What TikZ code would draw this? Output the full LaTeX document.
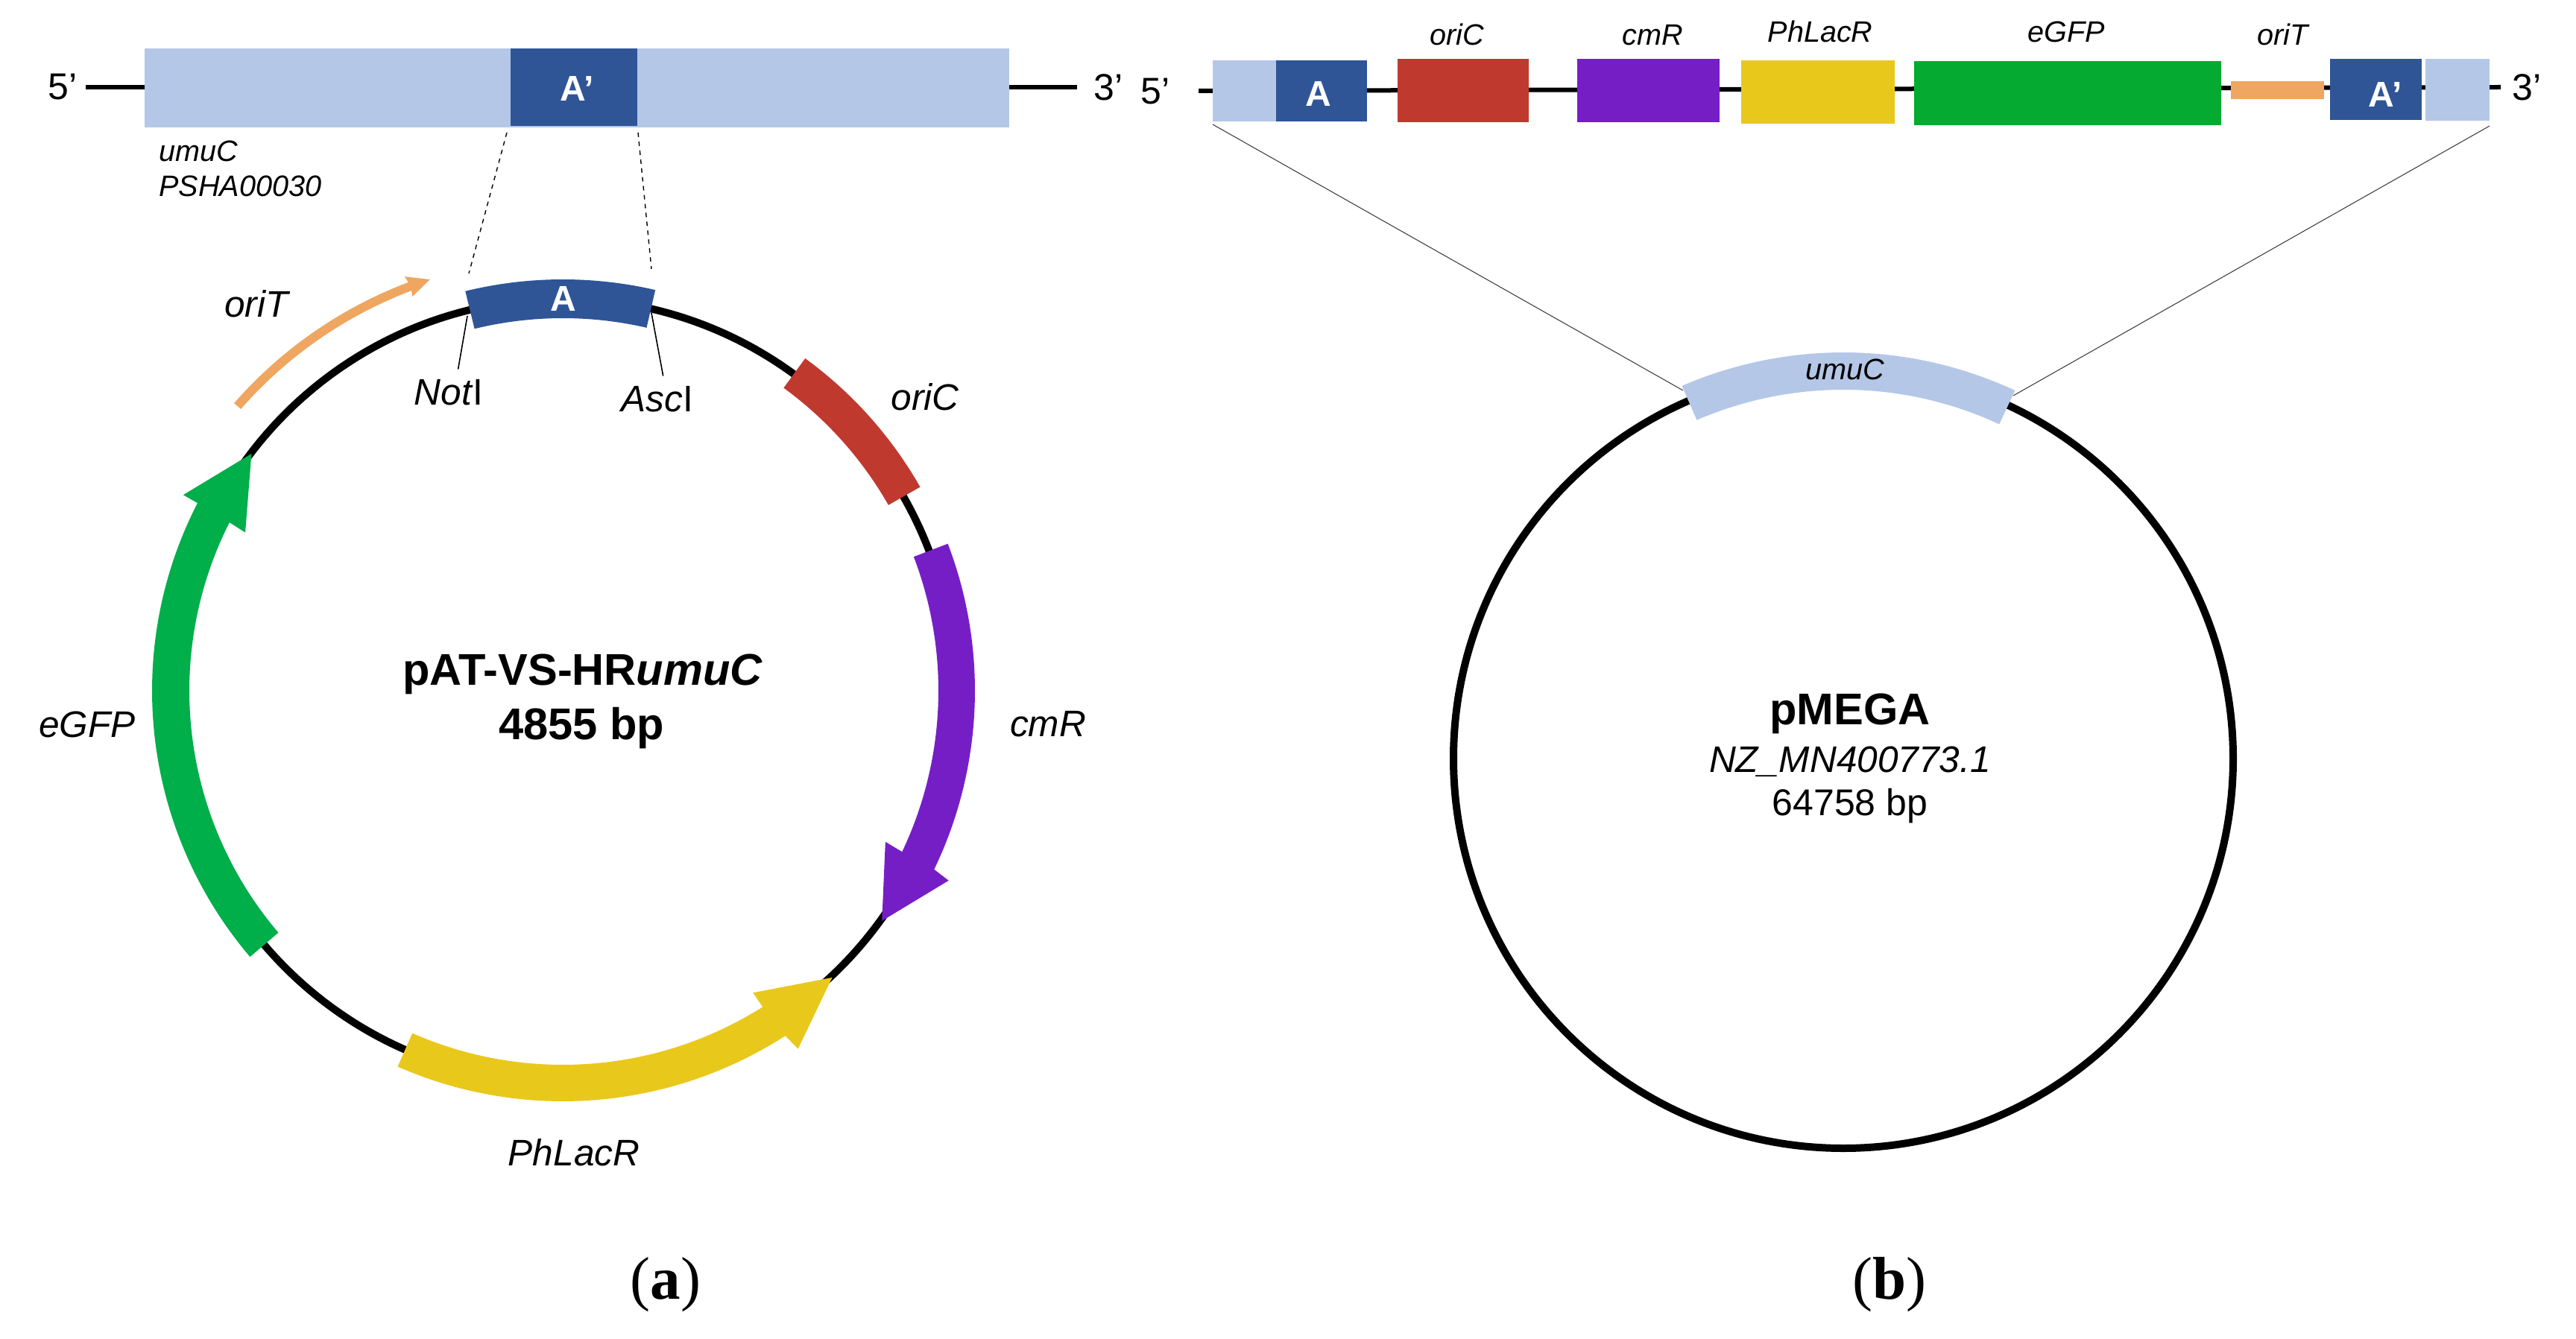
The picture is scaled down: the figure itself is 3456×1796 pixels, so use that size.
\documentclass[tikz,border=0pt]{standalone}
\usepackage{fontspec}
\setmainfont{Liberation Sans}
\newfontfamily\capfont{Liberation Serif}
\usetikzlibrary{positioning}
\definecolor{umulight}{HTML}{B4C7E7}
\definecolor{homblue}{HTML}{2F5597}
\definecolor{oricred}{HTML}{C0392F}
\definecolor{cmrpurple}{HTML}{761EC6}
\definecolor{lacyellow}{HTML}{E9C81C}
\definecolor{gfpgreen}{HTML}{00AE4A}
\definecolor{gfpstrip}{HTML}{04AB30}
\definecolor{oritorange}{HTML}{EEA660}
\begin{document}
\begin{tikzpicture}[x=0.5pt, y=0.5pt,
		ring/.style = {draw, circle, line width=5pt, inner sep=0pt, outer sep=0pt},
		box/.style = {rectangle, inner sep=0pt, outer sep=0pt},
		homtext/.style = {inner sep=0pt, text=white, font=\fontsize{24}{28}\selectfont\bfseries},
		lab/.style = {inner sep=0pt, font=\fontsize{24.8}{28}\selectfont\itshape},
		small/.style = {inner sep=0pt, font=\fontsize{19.8}{23.5}\selectfont\itshape},
		prime/.style = {inner sep=0pt, font=\fontsize{25}{28}\selectfont},
		title/.style = {inner sep=0pt, font=\fontsize{29.8}{34}\selectfont\bfseries},
		dna/.style = {line width=3pt},
		zoomline/.style = {line width=0.5pt, black!80},
		panel/.style = {inner sep=0pt, font=\fontsize{40.5}{44}\selectfont\capfont}]
	\path[use as bounding box] (0,0) rectangle (3456,1796);

	% top left gene
	\node[box,fill=umulight,minimum width=580pt,minimum height=53pt] (umu) at (774,1678) {};
	\node[box,fill=homblue,minimum width=85pt,minimum height=52pt] (apr) at (770,1679) {};
	\node[homtext,xshift=2.2pt,yshift=-1pt] (aprtext) at (apr) {A'};
	\node[prime] (p5) at (84,1679) {5'};
	\node[prime] (p3) at (1487,1679) {3'};
	\coordinate (p5end) at (115,1679);
	\coordinate (p3end) at (1445,1679);
	\draw[dna] (p5end) -- (umu.west |- p5end);
	\draw[dna] (umu.east |- p3end) -- (p3end);
	\node[small,align=left,anchor=west] (umuname) at (213,1570) {umuC\\PSHA00030};

	% pAT ring
	\node[ring,minimum size=526pt] (pat) at (755,869) {};
	\begin{scope}[shift={(pat.center)}]
		\fill[oritorange] (138.8:586) arc[start angle=138.8,end angle=110.7,radius=586] -- (110.9:595) -- (107.9:580) -- (110.9:566) -- (110.7:574) arc[start angle=110.7,end angle=138.8,radius=574] -- cycle;
		\fill[homblue] (103.7:552) arc[start angle=103.7,end angle=77,radius=552] -- (77:500) arc[start angle=77,end angle=103.7,radius=500] -- cycle;
		\fill[oricred] (53.9:552) arc[start angle=53.9,end angle=29.7,radius=552] -- (29.7:503) arc[start angle=29.7,end angle=53.9,radius=503] -- cycle;
		\fill[cmrpurple] (20.9:553) arc[start angle=20.9,end angle=-25.7,radius=553] -- (-26.2:577) -- (-35.8:528) -- (-25.1:478) -- (-25.4:504) arc[start angle=-25.4,end angle=20.9,radius=504] -- cycle;
		\fill[lacyellow] (-113.7:551) arc[start angle=-113.7,end angle=-57.2,radius=551] -- (-56.7:575) -- (-46.8:528) -- (-57.8:479) -- (-57.7:502) arc[start angle=-57.7,end angle=-113.7,radius=502] -- cycle;
		\fill[gfpgreen] (220.4:551) arc[start angle=220.4,end angle=152.8,radius=551] -- (152.7:573) -- (142.7:525) -- (153.5:476) -- (153.2:501) arc[start angle=153.2,end angle=220.4,radius=501] -- cycle;
	\end{scope}
	\node[homtext] (ahom) at (756,1395) {A};
	\node[lab] (oritlab) at (344,1388) {oriT};
	\node[lab] (oriclab) at (1241,1263) {oriC};
	\node[lab] (gfplab) at (117,824) {eGFP};
	\node[lab] (cmrlab) at (1406,824) {cmR};
	\node[lab] (laclab) at (770,249) {PhLacR};
	\node[lab] (noti) at (602,1269) {Not\textup{I}};
	\node[lab] (asci) at (882,1260) {Asc\textup{I}};
	\node[title] (patname) at (782,891) {pAT-VS-HR\textit{umuC}};
	\node[title] (patsize) at (780,819) {4855 bp};

	\coordinate (notitop) at (627,1372);
	\coordinate (ascitop) at (874,1376);
	\draw[line width=0.8pt,shorten >=7pt] (notitop) -- (noti.60);
	\draw[line width=0.8pt,shorten >=7pt] (ascitop) -- (asci.60);

	% dashed lines to the homology arm
	\coordinate (dasha) at (680,1618);
	\coordinate (dashb) at (629,1429);
	\coordinate (dashc) at (856,1618);
	\coordinate (dashd) at (874,1435);
	\draw[dashed,line width=0.7pt] (dasha) -- (dashb);
	\draw[dashed,line width=0.7pt] (dashc) -- (dashd);

	% top right strip
	\coordinate (s5end) at (1608,1674);
	\coordinate (s3end) at (3355,1679);
	\draw[dna] (s5end) -- (s3end);
	\node[prime] (q5) at (1550,1673) {5'};
	\node[prime] (q3) at (3390,1679) {3'};
	\node[box,fill=umulight,minimum width=42.5pt,minimum height=41pt] (sleft) at (1669.5,1674) {};
	\node[box,fill=homblue,minimum width=61pt,minimum height=41pt,right=0pt of sleft] (shom) {};
	\node[box,fill=oricred,minimum width=88pt,minimum height=42.5pt,right=20.5pt of shom] (soric) {};
	\node[box,fill=cmrpurple,minimum width=95.5pt,minimum height=42.5pt,right=32.5pt of soric] (scmr) {};
	\node[box,fill=lacyellow,minimum width=103pt,minimum height=42.5pt,right=14.5pt of scmr,yshift=-1pt] (slac) {};
	\node[box,fill=gfpstrip,minimum width=206pt,minimum height=43pt,right=13pt of slac,yshift=-0.75pt] (sgfp) {};
	\node[box,fill=oritorange,minimum width=62.5pt,minimum height=12pt,right=6.5pt of sgfp,yshift=2pt] (sorit) {};
	\node[box,fill=homblue,minimum width=61.5pt,minimum height=41pt,right=4pt of sorit,yshift=0.5pt] (sapr) {};
	\node[box,fill=umulight,minimum width=43pt,minimum height=41.5pt,right=2.5pt of sapr] (sright) {};
	\node[homtext,xshift=-2.2pt,yshift=-2.2pt] (shomtext) at (shom) {A};
	\node[homtext,xshift=6.5pt,yshift=-3.3pt] (saprtext) at (sapr) {A'};
	\node[small,above=9pt of soric,xshift=-4pt] (soriclab) {oriC};
	\node[small,above=9pt of scmr,xshift=3pt] (scmrlab) {cmR};
	\node[small,above=12pt of slac,xshift=1.5pt] (slaclab) {PhLacR};
	\node[small,above=12.5pt of sgfp,xshift=-1pt] (sgfplab) {eGFP};
	\node[small,above=24pt of sorit,xshift=3.5pt] (soritlab) {oriT};

	% pMEGA ring
	\node[ring,minimum size=523pt] (mega) at (2473,778) {};
	\begin{scope}[shift={(mega.center)}]
		\fill[umulight] (113.4:545) arc[start angle=113.4,end angle=65,radius=545] -- (65:495) arc[start angle=65,end angle=113.4,radius=495] -- cycle;
	\end{scope}
	\node[small] (megaumu) at (2475,1300) {umuC};
	\node[title] (meganame) at (2482,838) {pMEGA};
	\node[lab] (megaacc) at (2482,774) {NZ\_MN400773.1};
	\node[prime] (megasize) at (2482,714) {64758 bp};

	\coordinate (zooma) at (2258,1272);
	\coordinate (zoomb) at (2701,1265);
	\draw[zoomline] ([yshift=-2pt]sleft.south west) -- (zooma);
	\draw[zoomline] ([yshift=-3.5pt]sright.south east) -- (zoomb);

	\node[panel] (pa) at (893,72) {(\textbf{a})};
	\node[panel] (pb) at (2535,72) {(\textbf{b})};
\end{tikzpicture}
\end{document}
